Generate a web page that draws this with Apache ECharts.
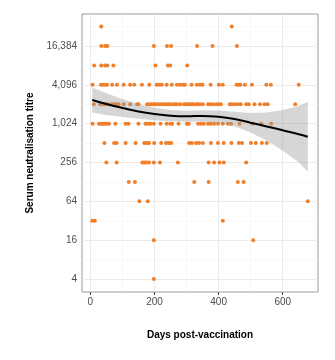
<!DOCTYPE html>
<html>
<head>
<meta charset="utf-8">
<script src="https://cdn.jsdelivr.net/npm/echarts@6/dist/echarts.min.js"></script>
<style>
  html, body { margin: 0; padding: 0; background: #ffffff; }
  #chart { width: 335px; height: 360px; }
</style>
</head>
<body>
<div id="chart"></div>
<script>
// Days post-vaccination of each serum sample, grouped by its neutralisation titre
const days4 = [198];
const days16 = [198, 508];
const days32 = [6, 14, 413];
const days64 = [153, 179, 678];
const days128 = [120, 139, 324, 369, 460, 478];
const days256 = [50, 82, 162, 168, 174, 183, 198, 217, 273, 369, 386, 403, 416, 486];
const days512 = [44, 74, 82, 110, 141, 168, 176, 183, 199, 221, 236, 244, 252, 308, 317, 330,
  339, 351, 376, 398, 416, 440, 463, 473, 501, 516, 535, 550];
const days1024 = [7, 27, 33, 39, 45, 51, 58, 78, 110, 119, 150, 172, 179, 187, 198, 219, 238,
  249, 255, 275, 301, 307, 336, 345, 354, 367, 376, 386, 398, 413, 429, 439, 465, 506, 533, 564];
const days2048 = [11, 31, 37, 44, 50, 56, 67, 75, 81, 88, 104, 124, 146, 150, 177, 183, 190,
  196, 202, 208, 215, 223, 230, 236, 243, 249, 258, 264, 271, 280, 292, 298, 305, 311, 317,
  323, 332, 336, 342, 351, 367, 373, 382, 392, 400, 407, 435, 441, 450, 460, 469, 486, 494,
  512, 529, 543, 553, 639];
const days4096 = [7, 33, 40, 47, 52, 68, 83, 104, 124, 137, 161, 184, 207, 215, 223, 238, 254,
  270, 280, 289, 295, 316, 332, 342, 350, 375, 401, 413, 456, 462, 468, 482, 504, 549, 563, 650];
const days8192 = [12, 34, 46, 53, 72, 203, 242, 249, 302];
const days16384 = [34, 46, 53, 198, 239, 252, 333, 381, 457];
const days32768 = [34, 441];

const titreLevels = [4, 16, 32, 64, 128, 256, 512, 1024, 2048, 4096, 8192, 16384, 32768];
const daysByTitre = [days4, days16, days32, days64, days128, days256, days512, days1024,
  days2048, days4096, days8192, days16384, days32768];

// Local regression fit (log2 titre) with its 95% confidence band
const fitDays = [6, 50, 100, 150, 200, 250, 300, 350, 400, 450, 500, 550, 600, 650, 678];
const fitLog2 = [11.22, 11.01, 10.81, 10.63, 10.50, 10.41, 10.38, 10.40, 10.36, 10.24, 10.05,
  9.86, 9.66, 9.46, 9.33];
const ciHighLog2 = [11.87, 11.57, 11.27, 11.01, 10.82, 10.70, 10.66, 10.69, 10.68, 10.62, 10.55,
  10.58, 10.71, 10.91, 11.13];
const ciLowLog2 = [10.57, 10.45, 10.35, 10.25, 10.18, 10.12, 10.10, 10.11, 10.04, 9.86, 9.55,
  9.14, 8.61, 8.01, 7.53];

// Axis breaks
const yTickTitres = [4, 16, 64, 256, 1024, 4096, 16384];
const yMinorTitres = [8, 32, 128, 512, 2048, 8192, 32768];
const xTickDays = [0, 200, 400, 600];
const xMinorDays = [100, 300, 500, 700];

const log2 = v => Math.log2(v);

const points = [];
titreLevels.forEach((t, i) => {
  daysByTitre[i].forEach(d => points.push([d, log2(t)]));
});

const fitLine = fitDays.map((d, i) => [d, fitLog2[i]]);
const bandRows = fitDays.map((d, i) => [d, ciLowLog2[i], ciHighLog2[i]]);

const yTicks = yTickTitres.map(log2);
const majorGrid = { lineStyle: { color: '#ebebeb', width: 1, type: 'solid' } };
const minorGrid = { lineStyle: { color: '#f3f3f3', width: 0.6, type: 'solid' } };
const gridLines = []
  .concat(yMinorTitres.map(t => Object.assign({ yAxis: log2(t) }, minorGrid)))
  .concat(xMinorDays.map(d => Object.assign({ xAxis: d }, minorGrid)))
  .concat(yTickTitres.map(t => Object.assign({ yAxis: log2(t) }, majorGrid)))
  .concat(xTickDays.map(d => Object.assign({ xAxis: d }, majorGrid)));

// Confidence band drawn as one polygon: upper edge forward, lower edge back
function renderBand(params, api) {
  if (params.dataIndex !== 0) return null;
  const upper = bandRows.map(r => api.coord([r[0], r[2]]));
  const lower = bandRows.map(r => api.coord([r[0], r[1]])).reverse();
  return {
    type: 'polygon',
    shape: { points: upper.concat(lower) },
    style: { fill: 'rgba(153,153,153,0.4)' },
    silent: true
  };
}

const chart = echarts.init(document.getElementById('chart'), null, { renderer: 'canvas' });

chart.setOption({
  animation: false,
  backgroundColor: '#ffffff',
  textStyle: { fontFamily: 'Liberation Sans, Arial, sans-serif' },
  grid: {
    left: 82, top: 14, width: 236, height: 278,
    show: true, borderColor: '#9a9a9a', borderWidth: 1, backgroundColor: '#ffffff'
  },
  xAxis: {
    type: 'value',
    min: -26, max: 710,
    name: 'Days post-vaccination',
    nameLocation: 'middle',
    nameGap: 38,
    nameTextStyle: { fontSize: 10, fontWeight: 'bold', color: '#000000' },
    axisLine: { show: false },
    splitLine: { show: false },
    axisTick: { show: true, customValues: xTickDays, length: 3, lineStyle: { color: '#444444' } },
    axisLabel: { customValues: xTickDays, fontSize: 10, color: '#4d4d4d', margin: 5 }
  },
  yAxis: {
    type: 'value',
    min: 1.33, max: 15.65,
    name: 'Serum neutralisation titre',
    nameLocation: 'middle',
    nameGap: 46,
    nameTextStyle: { fontSize: 10, fontWeight: 'bold', color: '#000000' },
    axisLine: { show: false },
    splitLine: { show: false },
    axisTick: { show: true, customValues: yTicks, length: 3, lineStyle: { color: '#444444' } },
    axisLabel: {
      customValues: yTicks, fontSize: 10, color: '#4d4d4d', margin: 5,
      formatter: v => Math.round(Math.pow(2, v)).toLocaleString('en-US')
    }
  },
  series: [
    {
      name: 'samples',
      type: 'scatter',
      z: 2,
      symbolSize: 4,
      itemStyle: { color: '#f07f2a', opacity: 1 },
      data: points,
      markLine: {
        silent: true, symbol: 'none', z: 1, animation: false,
        label: { show: false },
        emphasis: { disabled: true },
        data: gridLines
      }
    },
    {
      name: 'band',
      type: 'custom',
      z: 3,
      clip: true,
      renderItem: renderBand,
      data: bandRows
    },
    {
      name: 'fit',
      type: 'line',
      z: 4,
      smooth: 0.4,
      symbol: 'none',
      lineStyle: { color: '#000000', width: 2 },
      data: fitLine
    }
  ]
});
</script>
</body>
</html>
